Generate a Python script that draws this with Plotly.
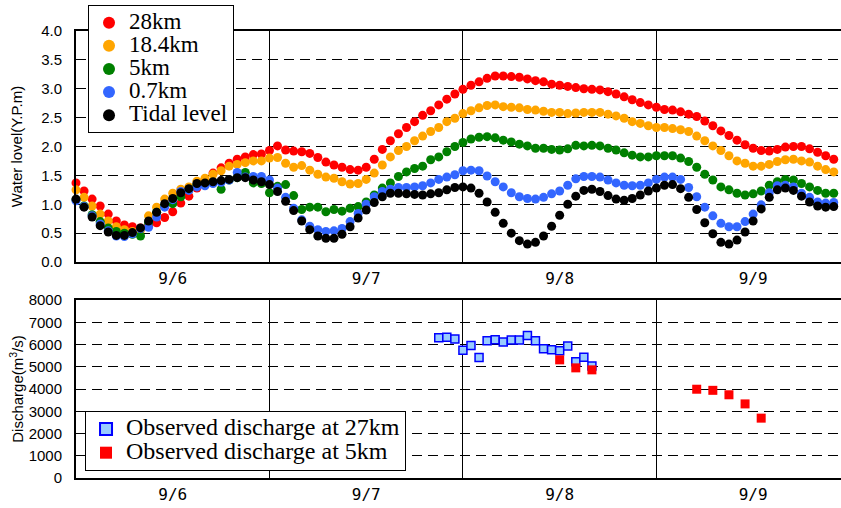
import plotly.graph_objects as go

# ---------------- data ----------------
hours = list(range(96))          # hourly, starting 9/6 00:00
day_labels = ["9/6", "9/7", "9/8", "9/9"]
day_centers = [12, 36, 60, 84]
day_bounds = [24, 48, 72]

level_28km = [1.37, 1.23, 1.09, 0.97, 0.83, 0.71, 0.64, 0.61, 0.59, 0.62, 0.68, 0.77, 0.87, 1.02, 1.14, 1.28, 1.42, 1.54, 1.63, 1.71, 1.78, 1.82, 1.86, 1.87,
              1.93, 2.01, 1.94, 1.92, 1.91, 1.88, 1.81, 1.73, 1.68, 1.64, 1.60, 1.59, 1.64, 1.78, 1.95, 2.10, 2.22, 2.33, 2.43, 2.54, 2.62, 2.72, 2.82, 2.91,
              2.99, 3.06, 3.12, 3.18, 3.22, 3.22, 3.21, 3.20, 3.17, 3.14, 3.12, 3.08, 3.06, 3.04, 3.02, 3.00, 2.99, 2.98, 2.95, 2.91, 2.86, 2.81, 2.76, 2.72,
              2.68, 2.64, 2.63, 2.60, 2.56, 2.52, 2.44, 2.36, 2.27, 2.19, 2.11, 2.03, 1.97, 1.93, 1.92, 1.95, 1.99, 2.00, 2.00, 1.96, 1.90, 1.84, 1.78, 1.74]

level_18km = [1.25, 1.12, 0.97, 0.83, 0.71, 0.61, 0.56, 0.53, 0.55, 0.80, 0.95, 1.09, 1.19, 1.26, 1.30, 1.40, 1.45, 1.52, 1.58, 1.66, 1.69, 1.72, 1.75, 1.75,
              1.80, 1.81, 1.71, 1.64, 1.67, 1.59, 1.52, 1.47, 1.45, 1.39, 1.35, 1.36, 1.43, 1.54, 1.68, 1.82, 1.93, 2.00, 2.10, 2.18, 2.26, 2.33, 2.43, 2.49,
              2.57, 2.62, 2.67, 2.71, 2.72, 2.69, 2.68, 2.67, 2.64, 2.63, 2.61, 2.59, 2.59, 2.57, 2.58, 2.59, 2.59, 2.59, 2.56, 2.53, 2.49, 2.43, 2.40, 2.36,
              2.33, 2.33, 2.31, 2.29, 2.26, 2.18, 2.10, 2.01, 1.93, 1.84, 1.75, 1.71, 1.66, 1.66, 1.69, 1.74, 1.77, 1.78, 1.75, 1.73, 1.66, 1.60, 1.56, 1.52]

level_5km = [1.08, 0.97, 0.82, 0.70, 0.59, 0.53, 0.50, 0.48, 0.45, 0.68, 0.86, 0.97, 1.01, 1.13, 1.25, 1.33, 1.34, 1.38, 1.26, 1.42, 1.46, 1.55, 1.37, 1.36,
             1.20, 1.31, 1.34, 1.15, 0.91, 0.95, 0.95, 0.87, 0.91, 0.88, 0.93, 0.96, 1.04, 1.16, 1.28, 1.37, 1.48, 1.56, 1.62, 1.66, 1.77, 1.82, 1.91, 2.00,
             2.07, 2.13, 2.16, 2.17, 2.15, 2.11, 2.08, 2.04, 2.01, 1.97, 1.97, 1.95, 1.94, 1.96, 2.02, 2.01, 2.02, 2.01, 1.97, 1.94, 1.89, 1.85, 1.82, 1.82,
             1.84, 1.84, 1.84, 1.80, 1.74, 1.64, 1.52, 1.42, 1.30, 1.25, 1.19, 1.16, 1.18, 1.23, 1.33, 1.39, 1.43, 1.42, 1.36, 1.30, 1.24, 1.19, 1.19, 1.22]

level_07km = [1.06, 0.96, 0.80, 0.66, 0.54, 0.45, 0.44, 0.49, 0.58, 0.60, 0.78, 0.95, 1.08, 1.22, 1.24, 1.30, 1.32, 1.36, 1.38, 1.42, 1.55, 1.47, 1.48, 1.48,
              1.42, 1.28, 1.12, 0.93, 0.73, 0.62, 0.56, 0.53, 0.54, 0.58, 0.70, 0.84, 1.00, 1.13, 1.22, 1.26, 1.29, 1.29, 1.30, 1.32, 1.37, 1.43, 1.47, 1.51,
              1.58, 1.59, 1.58, 1.49, 1.39, 1.30, 1.20, 1.13, 1.10, 1.09, 1.12, 1.18, 1.23, 1.33, 1.44, 1.48, 1.48, 1.47, 1.42, 1.37, 1.33, 1.32, 1.33, 1.37,
              1.43, 1.47, 1.47, 1.43, 1.29, 1.13, 0.95, 0.80, 0.67, 0.61, 0.61, 0.70, 0.83, 0.99, 1.20, 1.32, 1.33, 1.30, 1.19, 1.12, 1.04, 1.02, 1.03, 1.07]

level_tide = [1.09, 0.95, 0.78, 0.63, 0.52, 0.46, 0.46, 0.51, 0.59, 0.71, 0.86, 1.01, 1.10, 1.20, 1.27, 1.36, 1.37, 1.39, 1.41, 1.43, 1.46, 1.46, 1.42, 1.39,
              1.34, 1.22, 1.05, 0.89, 0.71, 0.56, 0.45, 0.41, 0.41, 0.48, 0.61, 0.76, 0.90, 1.03, 1.13, 1.19, 1.19, 1.18, 1.17, 1.16, 1.18, 1.20, 1.25, 1.29,
              1.30, 1.28, 1.19, 1.04, 0.86, 0.67, 0.50, 0.37, 0.31, 0.34, 0.45, 0.62, 0.81, 1.00, 1.14, 1.24, 1.26, 1.22, 1.15, 1.09, 1.07, 1.10, 1.16, 1.23,
              1.28, 1.33, 1.34, 1.27, 1.12, 0.91, 0.68, 0.49, 0.34, 0.31, 0.38, 0.52, 0.71, 0.92, 1.12, 1.25, 1.28, 1.24, 1.14, 1.04, 0.97, 0.95, 0.96, 1.04]

dis27_hours = list(range(45, 65))
dis27 = [6300, 6330, 6250, 5740, 5960, 5420, 6170, 6210, 6110, 6200,
         6200, 6410, 6170, 5810, 5760, 5720, 5930, 5220, 5430, 5030]

dis5_hours = [60, 62, 64, 77, 79, 81, 83, 85]
dis5 = [5310, 4950, 4860, 3990, 3940, 3740, 3330, 2690]

level_names = ["28km", "18.4km", "5km", "0.7km", "Tidal level"]
level_values = [level_28km, level_18km, level_5km, level_07km, level_tide]
level_colors = ["#FF0000", "#FFA500", "#008000", "#3366FF", "#000000"]

# ---------------- figure ----------------
LEG_TXT = '<span style="font-size:23px">{}</span>'
LEG2_TXT = '<span style="font-size:24px">{}</span>'
fig = go.Figure()

for name, vals, col in zip(level_names, level_values, level_colors):
    fig.add_trace(go.Scatter(
        x=hours, y=vals, mode="markers", name=LEG_TXT.format(name),
        marker=dict(color=col, size=9, line=dict(width=0)),
        cliponaxis=False, xaxis="x", yaxis="y", legend="legend"))

fig.add_trace(go.Scatter(
    x=dis27_hours, y=dis27, mode="markers",
    name=LEG2_TXT.format("Observed discharge at 27km"),
    marker=dict(symbol="square", size=8, color="#99CCFF",
                line=dict(color="#0000FF", width=1.5)),
    xaxis="x2", yaxis="y2", legend="legend2"))
fig.add_trace(go.Scatter(
    x=dis5_hours, y=dis5, mode="markers",
    name=LEG2_TXT.format("Observed discharge at 5km"),
    marker=dict(symbol="square", size=9, color="#FF0000", line=dict(width=0)),
    xaxis="x2", yaxis="y2", legend="legend2"))

xcommon = dict(
    range=[0, 94.9], tickmode="array", tickvals=day_centers, ticktext=day_labels,
    showgrid=False, zeroline=False, showline=True, linecolor="black",
    linewidth=2, mirror=True, ticks="", ticklabelstandoff=1,
    tickfont=dict(family="DejaVu Sans Mono", size=16, color="black"),
    minor=dict(tickmode="array", tickvals=day_bounds, showgrid=True,
               gridcolor="black", gridwidth=1, ticks=""),
)
ycommon = dict(
    showgrid=True, gridcolor="black", gridwidth=1, griddash="10px,6px",
    zeroline=False, showline=True, linecolor="black", linewidth=2,
    ticks="", ticklabelstandoff=9,
    tickfont=dict(family="Liberation Sans, Arial, sans-serif", size=15, color="black"),
)

fig.update_layout(
    template="none",
    width=841, height=508,
    margin=dict(l=76, r=0, t=31, b=30, autoexpand=False),
    paper_bgcolor="white", plot_bgcolor="white",
    font=dict(family="Liberation Sans, Arial, sans-serif", size=14, color="black"),
    xaxis=dict(domain=[0, 1], anchor="y", **xcommon),
    yaxis=dict(domain=[0.4832, 1], anchor="x", range=[0, 4], dtick=0.5,
               tickformat=".1f",
               title=dict(text="Water lovel(Y.P.m)", standoff=15,
                          font=dict(size=15)),
               **ycommon),
    xaxis2=dict(domain=[0, 1], anchor="y2", **xcommon),
    yaxis2=dict(domain=[0, 0.3982], anchor="x2", range=[0, 8000], dtick=1000,
                title=dict(text="Discharge(m<sup>3</sup>/s)", standoff=1,
                           font=dict(size=15)),
                **ycommon),
    legend=dict(x=0.0157, y=1.058, xanchor="left", yanchor="top",
                bgcolor="white", bordercolor="black", borderwidth=1,
                font=dict(family="Liberation Serif, Times New Roman, serif",
                          size=15.5, color="black"),
                itemsizing="constant", tracegroupgap=0),
    legend2=dict(x=0.0118, y=0.1499, xanchor="left", yanchor="top",
                 bgcolor="white", bordercolor="black", borderwidth=1,
                 font=dict(family="Liberation Serif, Times New Roman, serif",
                           size=16, color="black"),
                 itemsizing="constant", tracegroupgap=0),
    showlegend=True,
)

fig.write_html("out.html")
